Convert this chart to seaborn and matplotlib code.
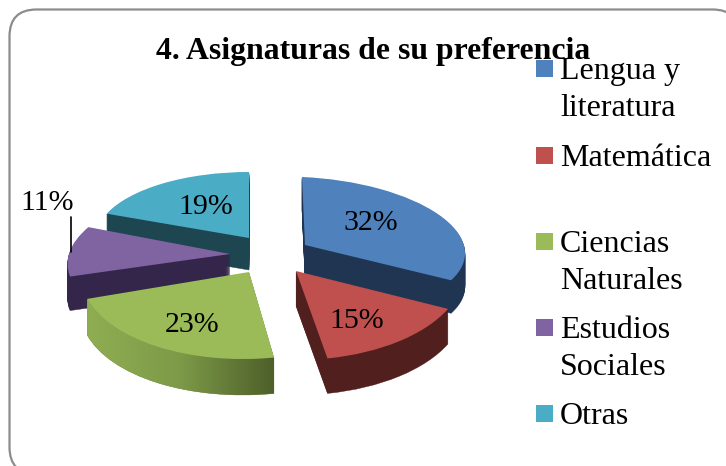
import copy
import numpy as np
import seaborn as sns
import matplotlib
matplotlib.use("Agg")
import matplotlib.pyplot as plt
from matplotlib.patches import FancyBboxPatch, Rectangle, PathPatch
from matplotlib.path import Path
from matplotlib.transforms import Affine2D
from matplotlib.colors import LinearSegmentedColormap

sns.set_theme(style="white")
plt.rcParams['font.family'] = ['Liberation Serif', 'DejaVu Serif']

# ---- data
categories = ["Lengua y\nliteratura", "Matemática", "Ciencias\nNaturales", "Estudios\nSociales", "Otras"]
values = [32, 15, 23, 11, 19]
title = "4. Asignaturas de su preferencia"

# ---- style
top_colors = ["#4f81bd", "#c0504d", "#9bbb59", "#8064a2", "#4bacc6"]
wall_colors = ["#1f3552", "#501f1e", "#6f8a40", "#33264a", "#1e4650"]
# per-slice geometry of the exploded perspective pie (px):
# apex x, apex y, radius x, radius y, x shear, y shear, depth
geom = [(305, 245, 160, 68, -3, 7, 33),
        (296, 271, 168, 89, 0, 0, 35),
        (249, 272, 168, 87, 6.6, 0, 36),
        (230, 254, 161, 73, 22, 0, 34),
        (249, 238, 153, 66, 0, 0, 32)]
draw_order = [4, 0, 3, 1, 2]
label_pos = [(371, 220), (357, 319), (192, 322), (47, 201), (206, 204)]
legend_y = [60, 147, 233, 319, 405]

fig = plt.figure(figsize=(7.26, 4.66), dpi=100)
ax = fig.add_axes([0, 0, 1, 1])
wedges, _ = ax.pie(values, startangle=90, counterclock=False, colors=top_colors, radius=1,
                   wedgeprops=dict(linewidth=0))
ax.set_aspect('auto')
ax.set_xlim(0, 726)
ax.set_ylim(466, 0)
ax.axis('off')

frame = FancyBboxPatch((9.5, 9.5), 730, 464.5, boxstyle="round,pad=0,rounding_size=27",
                       fc="white", ec="#8c8c8c", lw=1.6, zorder=0, clip_on=True)
ax.add_patch(frame)


def slice_transform(cx, cy, rx, ry, sx, sy):
    return Affine2D(np.array([[rx, sx, cx], [sy, -ry, cy], [0, 0, 1.0]]))


zo = 2.0
for i in draw_order:
    w = wedges[i]
    cx, cy, rx, ry, sx, sy, d = geom[i]
    w.remove()
    # extruded body: stacked copies of the slice, moving up to the top face
    for off in np.arange(d, 0, -1.0):
        c = copy.copy(w)
        c.set_facecolor(wall_colors[i])
        c.set_edgecolor(wall_colors[i])
        c.set_linewidth(0.3)
        c.set_transform(slice_transform(cx, cy + off, rx, ry, sx, sy) + ax.transData)
        c.set_zorder(zo)
        ax.add_patch(c)
    zo += 0.01
    if i == 2:
        # shaded outer wall of the front slice, light on the left and dark on the right
        t = np.radians(np.linspace(w.theta1, w.theta2, 80))
        xs = cx + rx * np.cos(t) + sx * np.sin(t)
        ys = cy - ry * np.sin(t) + sy * np.cos(t)
        verts = np.r_[np.c_[xs, ys], np.c_[xs[::-1], ys[::-1] + d], [[xs[0], ys[0]]]]
        band = PathPatch(Path(verts), transform=ax.transData, fc="none", ec="none", zorder=zo)
        ax.add_patch(band)
        cmap = LinearSegmentedColormap.from_list("g", ["#8fae52", "#7c9a48", "#4e5f2a"])
        im = ax.imshow(np.linspace(0, 1, 256).reshape(1, -1), cmap=cmap, aspect='auto',
                       extent=(xs.min(), xs.max(), ys.max() + d, ys.min()), zorder=zo)
        im.set_clip_path(band)
        ax.set_xlim(0, 726)
        ax.set_ylim(466, 0)
        zo += 0.01
    w.set_transform(slice_transform(cx, cy, rx, ry, sx, sy) + ax.transData)
    w.set_zorder(zo)
    ax.add_patch(w)
    zo += 0.01

for v, (x, y) in zip(values, label_pos):
    ax.text(x, y + 2.5, f"{v}%", ha='center', va='center', fontsize=21.5, color='black', zorder=5)
ax.plot([70.5, 70.5], [217, 252], color='black', lw=1.2, zorder=5)

ax.text(373, 59, title, ha='center', va='baseline', fontsize=22.9, fontweight='bold',
        color='black', zorder=6)

for name, col, y in zip(categories, top_colors, legend_y):
    ax.add_patch(Rectangle((536, y), 17, 17, fc=col, ec='none', zorder=5))
    for k, part in enumerate(name.split('\n')):
        ax.text(560, y + 19 + 37 * k, part, ha='left', va='baseline', fontsize=23,
                color='black', zorder=7)

fig.savefig("out.png", dpi=100)
